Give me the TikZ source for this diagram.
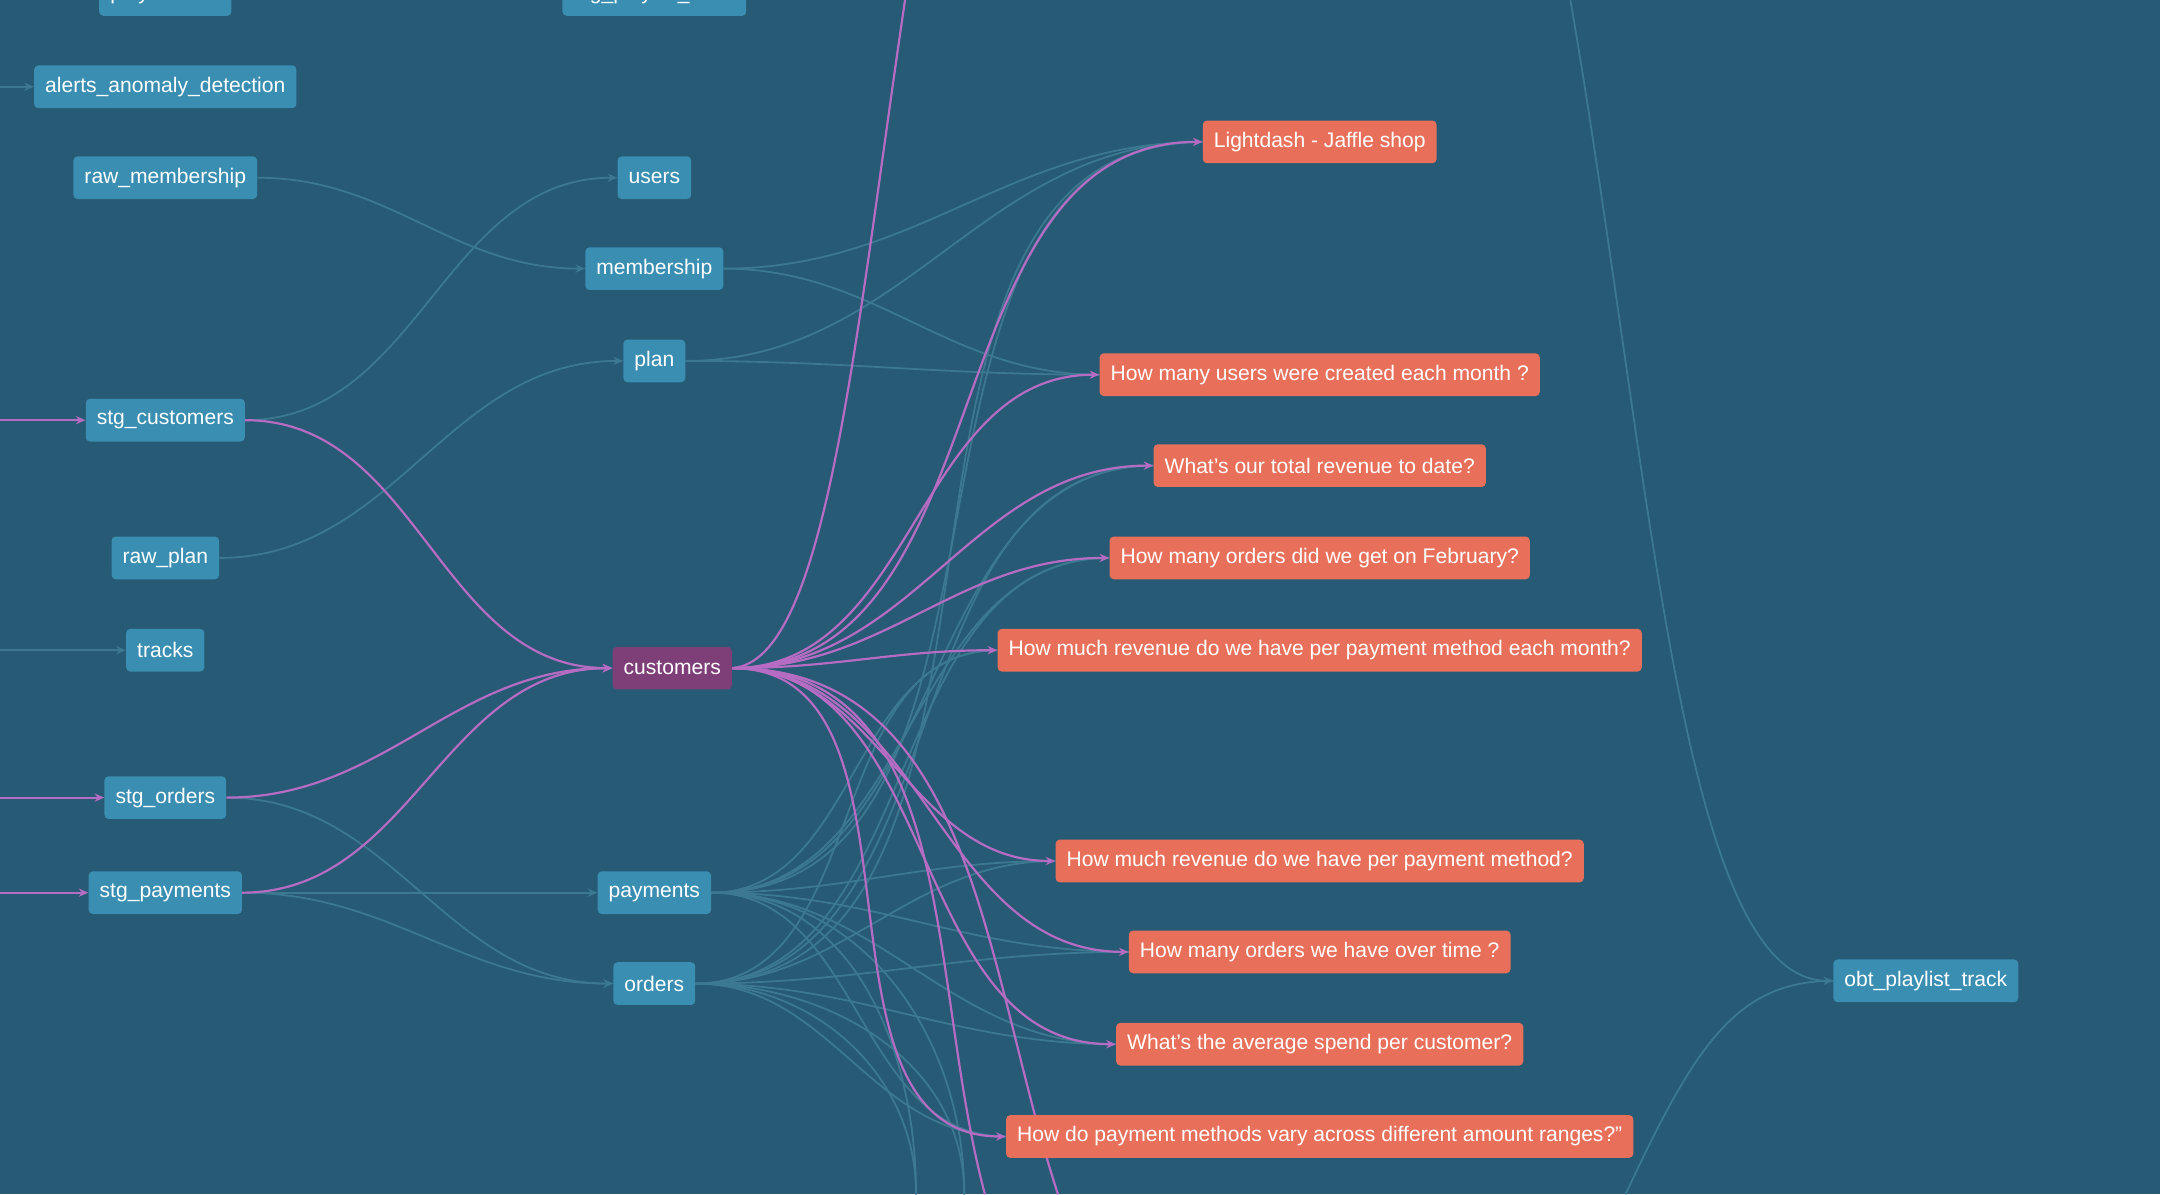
\documentclass[tikz,border=0pt]{standalone}
\usepackage{fontspec}
\setmainfont{Liberation Sans}
\usetikzlibrary{arrows.meta}
\pgfdeclarelayer{edges}
\pgfsetlayers{edges,main}
\definecolor{bg}{HTML}{275A74}
\definecolor{bnode}{HTML}{3A8EB2}
\definecolor{onode}{HTML}{E8705A}
\definecolor{pnode}{HTML}{7E3F78}
\definecolor{pedge}{HTML}{B56CC2}
\definecolor{fedge}{HTML}{3D7891}
\tikzset{
 base/.style={rounded corners=3pt,text=white,font=\fontsize{15.3}{17}\selectfont,minimum height=31pt,inner xsep=8pt},
 bbox/.style={base,fill=bnode},
 obox/.style={base,fill=onode},
 pbox/.style={base,fill=pnode},
 pe/.style={draw=pedge,line width=1.6pt,-{Stealth[length=7pt,width=6pt]}},
 pn/.style={draw=pedge,line width=1.6pt},
 fe/.style={draw=fedge,line width=1.3pt},
 fa/.style={draw=fedge,line width=1.3pt,-{Stealth[length=7pt,width=6pt]}},
}
\begin{document}
\begin{tikzpicture}[x=1pt,y=-1pt]
\begin{pgfonlayer}{edges}
\fill[bg] (0,0) rectangle (1568,867);
\end{pgfonlayer}
\useasboundingbox (0,0) rectangle (1568,867);
% nodes
\node[bbox] (pt) at (120,-4) {playlisttrack};
\node[bbox] (spt) at (475,-4) {stg\_playlist\_track};
\node[bbox] (alerts) at (120,63) {alerts\_anomaly\_detection};
\node[bbox] (rawm) at (120,129) {raw\_membership};
\node[bbox] (users) at (475,129) {users};
\node[bbox] (memb) at (475,195) {membership};
\node[bbox] (plan) at (475,262) {plan};
\node[bbox] (stgc) at (120,305) {stg\_customers};
\node[bbox] (rawp) at (120,405) {raw\_plan};
\node[bbox] (tracks) at (120,472) {tracks};
\node[pbox] (cust) at (488,485) {customers};
\node[bbox] (stgo) at (120,579) {stg\_orders};
\node[bbox] (stgp) at (120,648) {stg\_payments};
\node[bbox] (pay) at (475,648) {payments};
\node[bbox] (ord) at (475,714) {orders};
\node[bbox] (obt) at (1398,712) {obt\_playlist\_track};
\node[obox] (o1) at (958,103) {Lightdash - Jaffle shop};
\node[obox] (o2) at (958,272) {How many users were created each month ?};
\node[obox] (o3) at (958,338) {What's our total revenue to date?};
\node[obox] (o4) at (958,405) {How many orders did we get on February?};
\node[obox] (o5) at (958,472) {How much revenue do we have per payment method each month?};
\node[obox] (o6) at (958,625) {How much revenue do we have per payment method?};
\node[obox] (o7) at (958,691) {How many orders we have over time ?};
\node[obox] (o8) at (958,758) {What's the average spend per customer?};
\node[obox] (o9) at (958,825) {How do payment methods vary across different amount ranges?"};
% free ends
\coordinate (l1) at (0,305); \coordinate (l2) at (0,579); \coordinate (l3) at (0,648);
\coordinate (l4) at (0,472); \coordinate (l5) at (0,63);
\coordinate (t1) at (657,0); \coordinate (b1) at (715,867); \coordinate (b2) at (768,867);
\coordinate (t2) at (1140,0); \coordinate (b3) at (1180,867);
\coordinate (b4) at (665,867); \coordinate (b6) at (700,867);
\begin{pgfonlayer}{edges}
% faint edges
\draw[fa] (l4) -- (tracks.west);
\draw[fa] (l5) -- (alerts.west);
\draw[fa] (rawm.east) to[out=0,in=180] (memb.west);
\draw[fa] (stgc.east) to[out=0,in=180] (users.west);
\draw[fa] (rawp.east) to[out=0,in=180] (plan.west);
\draw[fa] (stgo.east) to[out=0,in=180] (ord.west);
\draw[fa] (stgp.east) to[out=0,in=180] (pay.west);
\draw[fa] (stgp.east) to[out=0,in=180] (ord.west);
\foreach \s in {memb,plan}{
  \draw[fe] (\s.east) to[out=0,in=180] (o1.west);
  \draw[fe] (\s.east) to[out=0,in=180] (o2.west);
}
\foreach \s in {pay,ord}{
  \foreach \t in {o1,o3,o4,o5,o6,o7,o8,o9}{
    \draw[fe] (\s.east) to[out=0,in=180] (\t.west);
  }
  \draw[fe] (\s.east) to[out=0,in=90] (b4);
  \draw[fe] (\s.east) to[out=0,in=90] (b6);
}
\draw[fa] (t2) .. controls (1200,350) and (1220,712) .. (obt.west);
\draw[fe] (b3) .. controls (1230,760) and (1260,712) .. (obt.west);
% purple edges
\draw[pe] (l1) -- (stgc.west);
\draw[pe] (l2) -- (stgo.west);
\draw[pe] (l3) -- (stgp.west);
\foreach \s in {stgc,stgo,stgp}{
  \draw[pe] (\s.east) to[out=0,in=180] (cust.west);
}
\foreach \t in {o1,o2,o3,o4,o5,o6,o7,o8,o9}{
  \draw[pe] (cust.east) to[out=0,in=180] (\t.west);
}
\draw[pn] (cust.east) .. controls (600,480) and (620,250) .. (t1);
\draw[pn] (cust.east) to[out=0,in=105] (b1);
\draw[pn] (cust.east) to[out=0,in=108] (b2);
\end{pgfonlayer}
\end{tikzpicture}
\end{document}
